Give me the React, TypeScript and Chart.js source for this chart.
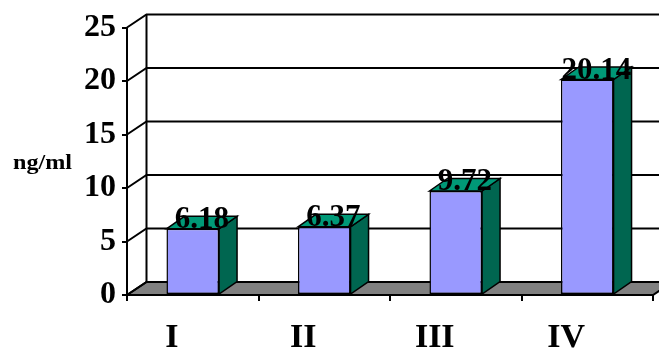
import React, { useEffect, useRef } from "react";
import { Chart, registerables } from "chart.js";

Chart.register(...registerables);

const categories = ["I", "II", "III", "IV"];
const values = [6.18, 6.37, 9.72, 20.14];
const yTicks = [0, 5, 10, 15, 20, 25];
const yTitle = "ng/ml";

const FONT = "'Times New Roman', 'Liberation Serif', serif";
const WALL_DX = 19.5;
const WALL_DY = -13;
const BAR_DX = 18;
const BAR_DY = -12.5;

const threeD = {
  id: "threeD",
  beforeDatasetsDraw(chart: any) {
    const ctx = chart.ctx;
    const { left, right, top, bottom } = chart.chartArea;
    const ys = chart.scales.y;
    ctx.save();
    ctx.lineJoin = "miter";
    // floor
    ctx.beginPath();
    ctx.moveTo(left, bottom);
    ctx.lineTo(right, bottom);
    ctx.lineTo(right + WALL_DX, bottom + WALL_DY);
    ctx.lineTo(left + WALL_DX, bottom + WALL_DY);
    ctx.closePath();
    ctx.fillStyle = "#808080";
    ctx.fill();
    ctx.strokeStyle = "#000";
    ctx.lineWidth = 2;
    ctx.stroke();
    // back wall left edge
    ctx.beginPath();
    ctx.moveTo(left + WALL_DX, bottom + WALL_DY);
    ctx.lineTo(left + WALL_DX, top + WALL_DY);
    ctx.stroke();
    // gridlines and side diagonals
    yTicks.forEach((v) => {
      const py = ys.getPixelForValue(v);
      ctx.beginPath();
      ctx.moveTo(left, py);
      ctx.lineTo(left + WALL_DX, py + WALL_DY);
      if (v > 0) ctx.lineTo(right + WALL_DX + 20, py + WALL_DY);
      ctx.stroke();
    });
    // bar sides and tops
    const meta = chart.getDatasetMeta(0);
    meta.data.forEach((bar: any) => {
      const { x, y, base, width } = bar.getProps(["x", "y", "base", "width"], true);
      const xl = x - width / 2;
      const xr = x + width / 2;
      ctx.lineWidth = 1.5;
      ctx.beginPath();
      ctx.moveTo(xr, y);
      ctx.lineTo(xr + BAR_DX, y + BAR_DY);
      ctx.lineTo(xr + BAR_DX, base + BAR_DY);
      ctx.lineTo(xr, base);
      ctx.closePath();
      ctx.fillStyle = "#006650";
      ctx.fill();
      ctx.stroke();
      ctx.beginPath();
      ctx.moveTo(xl, y);
      ctx.lineTo(xl + BAR_DX, y + BAR_DY);
      ctx.lineTo(xr + BAR_DX, y + BAR_DY);
      ctx.lineTo(xr, y);
      ctx.closePath();
      ctx.fillStyle = "#009977";
      ctx.fill();
      ctx.stroke();
    });
    ctx.restore();
  },
  afterDatasetsDraw(chart: any) {
    const ctx = chart.ctx;
    const meta = chart.getDatasetMeta(0);
    ctx.save();
    ctx.font = `bold 31px ${FONT}`;
    ctx.fillStyle = "#000";
    ctx.textAlign = "center";
    ctx.textBaseline = "alphabetic";
    meta.data.forEach((bar: any, i: number) => {
      ctx.fillText(values[i].toFixed(2), bar.x + 9, bar.y - 1);
    });
    // y title
    ctx.font = `bold 21px ${FONT}`;
    ctx.textAlign = "left";
    ctx.translate(13, 169);
    ctx.scale(1.15, 1);
    ctx.fillText(yTitle, 0, 0);
    ctx.restore();
  },
};

export default function App() {
  const ref = useRef<HTMLCanvasElement>(null);
  useEffect(() => {
    if (!ref.current) return;
    const chart = new Chart(ref.current, {
      type: "bar",
      data: {
        labels: categories,
        datasets: [
          {
            data: values,
            backgroundColor: "#9999FF",
            borderColor: "#000",
            borderWidth: 1.5,
            borderSkipped: false,
            barPercentage: 0.4,
            categoryPercentage: 1,
          },
        ],
      },
      options: {
        animation: false,
        responsive: false,
        layout: { padding: { top: 27.5, right: 6, left: 0, bottom: 0 } },
        plugins: { legend: { display: false }, tooltip: { enabled: false } },
        scales: {
          y: {
            min: 0,
            max: 25,
            ticks: {
              stepSize: 5,
              color: "#000",
              padding: 6,
              font: { family: FONT, size: 32, weight: "bold" },
            },
            grid: { drawOnChartArea: false, tickLength: 5, color: "#000", lineWidth: 2 },
            border: { display: true, color: "#000", width: 2 },
            afterFit: (s: any) => {
              s.width = 127;
            },
          },
          x: {
            ticks: {
              color: "#000",
              padding: 17,
              labelOffset: -21,
              font: { family: FONT, size: 34, weight: "bold" },
            },
            grid: { drawOnChartArea: false, tickLength: 6, color: "#000", lineWidth: 2, offset: true },
            border: { display: true, color: "#000", width: 2 },
            afterFit: (s: any) => {
              s.height = 58;
            },
          },
        },
      },
      plugins: [threeD],
    });
    return () => chart.destroy();
  }, []);
  return (
    <div style={{ position: "fixed", left: 0, top: 0, width: 659, height: 353, background: "#fff" }}>
      <canvas ref={ref} width={659} height={353} />
    </div>
  );
}
